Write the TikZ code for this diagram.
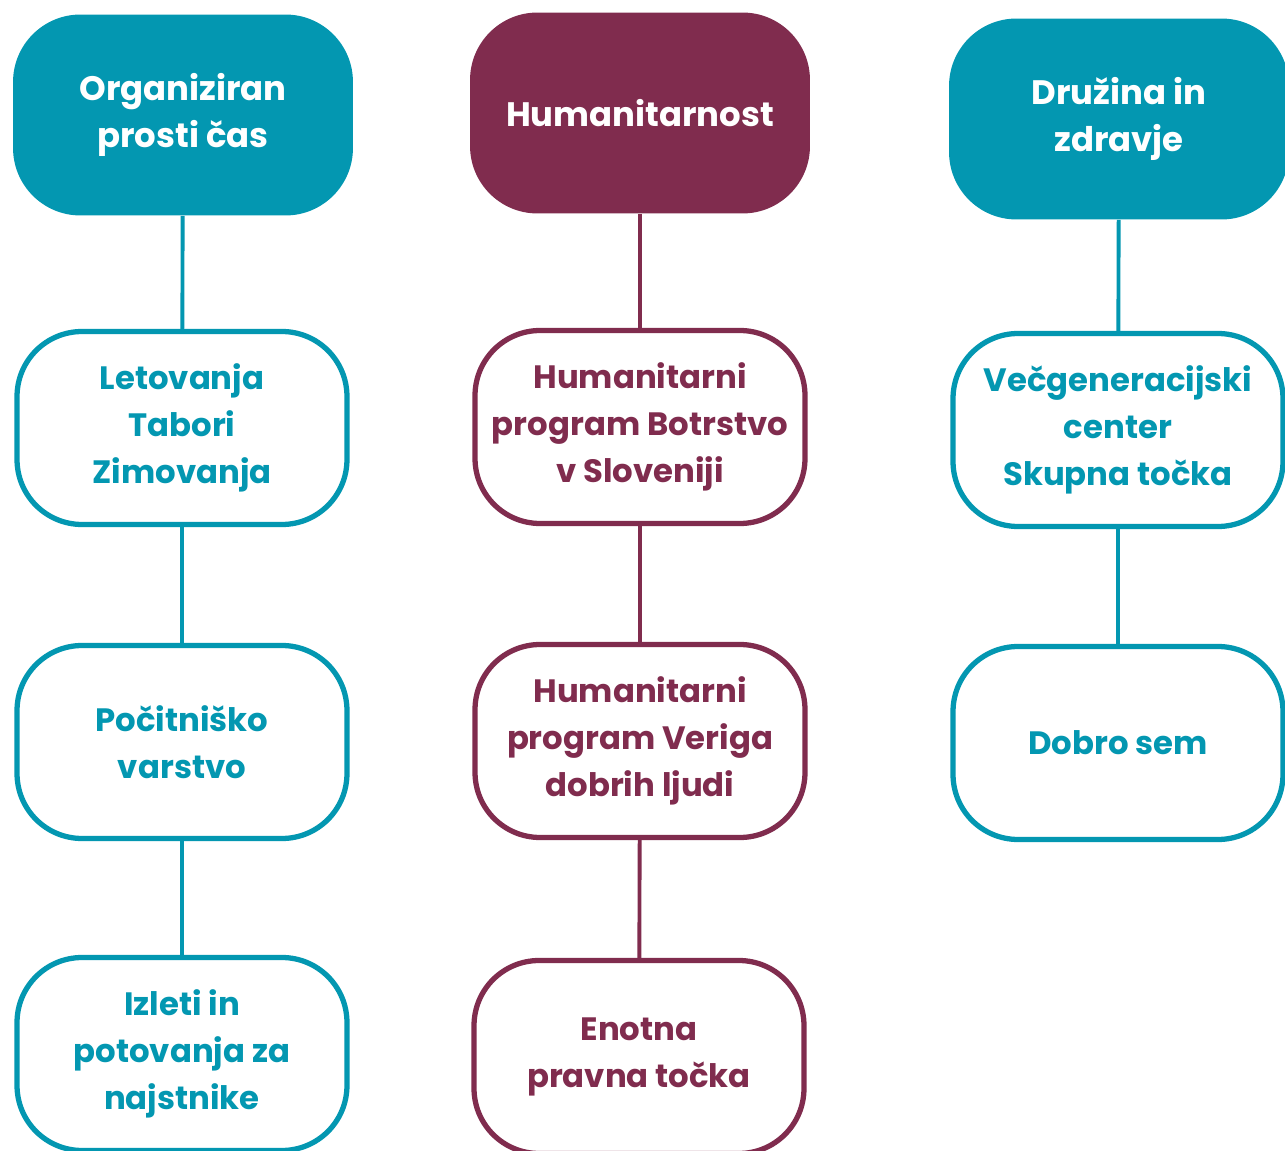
\documentclass[tikz,border=0pt]{standalone}
\usepackage{fontspec}
\setmainfont{Poppins}
\usepackage{tikz}
\definecolor{cteal}{RGB}{3,151,177}
\definecolor{cwine}{RGB}{128,44,78}
\usetikzlibrary{positioning}
\tikzset{head/.style={fill=#1,text=white,rounded corners=1.35cm,minimum width=6.8cm,minimum height=4.02cm,align=center,font=\bfseries\fontsize{19.3}{26.6}\selectfont}}
\tikzset{item/.style={draw=#1,text=#1,fill=white,line width=3pt,rounded corners=1.3cm,minimum width=6.6cm,minimum height=3.86cm,align=center,font=\bfseries\fontsize{18.4}{26.6}\selectfont}}
\tikzset{link/.style={draw=#1,line width=2.2pt}}

\begin{document}
\begin{tikzpicture}[x=0.02cm,y=-0.02cm]
        \useasboundingbox (0,0) rectangle (1285,1151);
        \clip (0,0) rectangle (1285,1151);
        \node[head=cteal] (org) at (183,115) {Organiziran\\prosti čas};
        \node[head=cwine] (hum) at (640,113) {Humanitarnost};
        \node[head=cteal] (dru) at (1119,119) {Družina in\\zdravje};
        \node[item=cteal] (let) at (182,428) {Letovanja\\Tabori\\Zimovanja};
        \node[item=cteal] (poc) at (182,742) {Počitniško\\varstvo};
        \node[item=cteal] (izl) at (182,1054) {Izleti in\\potovanja za\\najstnike};
        \node[item=cwine] (bot) at (640,427) {Humanitarni\\program Botrstvo\\v Sloveniji};
        \node[item=cwine] (ver) at (640,741) {Humanitarni\\program Veriga\\dobrih ljudi};
        \node[item=cwine] (eno) at (639,1057) {Enotna\\pravna točka};
        \node[item=cteal] (vec) at (1118,430) {Večgeneracijski\\center\\Skupna točka};
        \node[item=cteal] (dob) at (1118,743) {Dobro sem};
        \draw[link=cteal] (org) -- (let);
        \draw[link=cteal] (let) -- (poc);
        \draw[link=cteal] (poc) -- (izl);
        \draw[link=cwine] (hum) -- (bot);
        \draw[link=cwine] (bot) -- (ver);
        \draw[link=cwine] (ver) -- (eno);
        \draw[link=cteal] (dru) -- (vec);
        \draw[link=cteal] (vec) -- (dob);
      \end{tikzpicture}
\end{document}
